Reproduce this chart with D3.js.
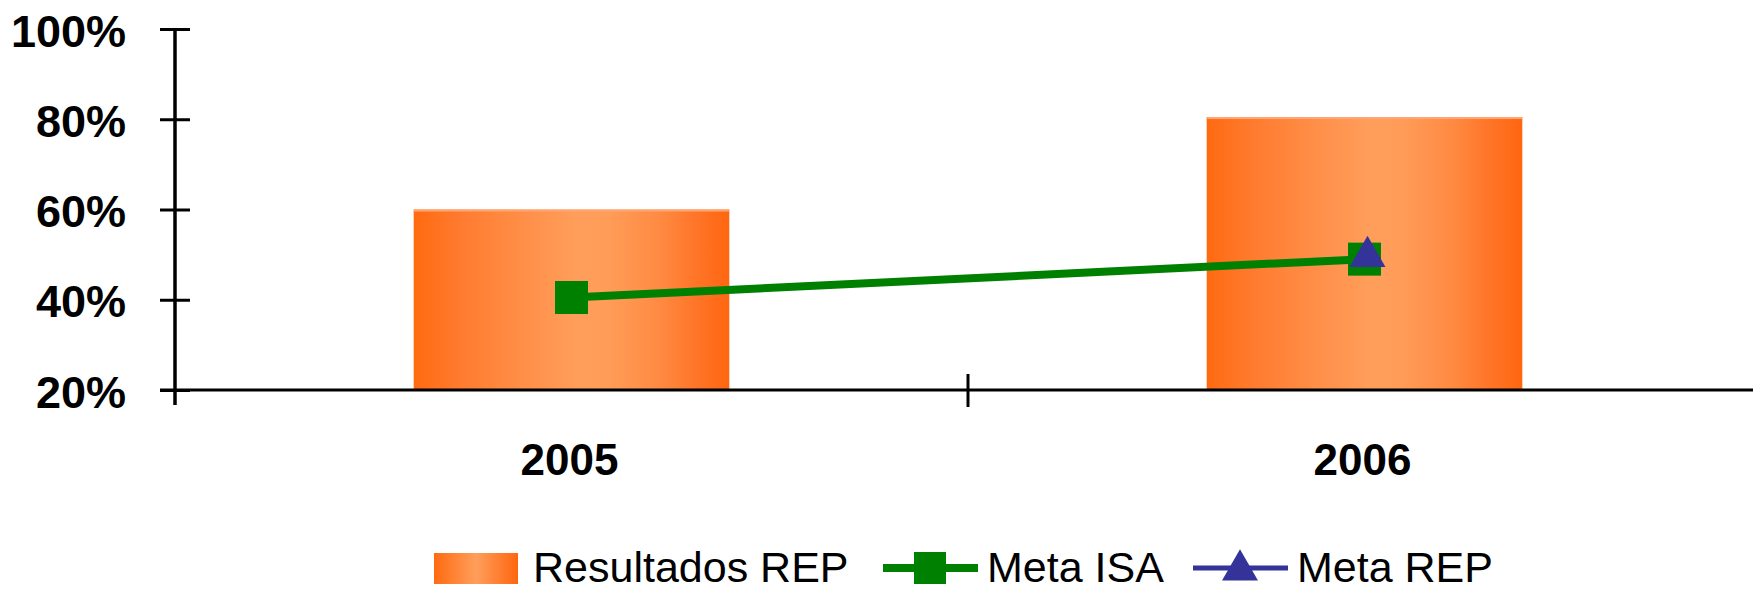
<!DOCTYPE html>
<html>
<head>
<meta charset="utf-8">
<script src="https://cdn.jsdelivr.net/npm/d3@7"></script>
<style>
  html, body { margin: 0; padding: 0; background: #fff; }
  svg { display: block; font-family: "Liberation Sans", Arial, sans-serif; }
</style>
</head>
<body>
<svg id="chart" width="1753" height="593"></svg>
<script>
// Chart data
const years = ["2005", "2006"];
const resultadosREP = [60, 80.5];
const metaISA = [40.5, 49];
const metaREP = [null, 50];
const yTicks = [20, 40, 60, 80, 100];
const legendLabels = ["Resultados REP", "Meta ISA", "Meta REP"];

const svg = d3.select("#chart");

// Plot frame
const plotLeft = 175, plotRight = 1761, plotTop = 29, plotBottom = 390;

const x = d3.scaleBand()
  .domain(years)
  .range([plotLeft, plotRight])
  .paddingInner(0.602)
  .paddingOuter(0.301);

const step = x.step();

const y = d3.scaleLinear().domain([20, 100]).range([plotBottom, plotTop]);

// Horizontal orange gradient for bars
const defs = svg.append("defs");
const grad = defs.append("linearGradient").attr("id", "barGrad")
  .attr("x1", "0%").attr("x2", "100%").attr("y1", "0%").attr("y2", "0%");
[
  [0, "#ff6a10"], [0.14, "#ff7a2e"], [0.35, "#ff8f48"], [0.52, "#ff9e5b"],
  [0.62, "#ff9c58"], [0.78, "#ff8a42"], [0.9, "#ff7427"], [1, "#ff6610"]
].forEach(([o, c]) => grad.append("stop").attr("offset", o).attr("stop-color", c));

// Bars
svg.append("g").selectAll("rect")
  .data(years)
  .join("rect")
  .attr("x", d => x(d))
  .attr("width", x.bandwidth())
  .attr("y", (d, i) => y(resultadosREP[i]))
  .attr("height", (d, i) => y(20) - y(resultadosREP[i]))
  .attr("fill", "url(#barGrad)");

// Light top edge of bars
svg.append("g").selectAll("line")
  .data(years)
  .join("line")
  .attr("x1", d => x(d))
  .attr("x2", d => x(d) + x.bandwidth())
  .attr("y1", (d, i) => y(resultadosREP[i]) + 1)
  .attr("y2", (d, i) => y(resultadosREP[i]) + 1)
  .attr("stroke", "#ffa574")
  .attr("stroke-width", 2);

// Y axis
const yAxis = d3.axisLeft(y)
  .tickValues(yTicks)
  .tickSize(0)
  .tickFormat(d => d + "%");
const gy = svg.append("g").attr("transform", `translate(${plotLeft},0)`).call(yAxis);
gy.select(".domain").remove();
gy.selectAll(".tick text")
  .attr("x", -49)
  .attr("dy", "0.38em")
  .attr("font-size", 45)
  .attr("font-weight", "bold")
  .attr("fill", "#000")
  .attr("font-family", "'Liberation Sans', Arial, sans-serif");
gy.selectAll(".tick").append("line")
  .attr("x1", -15).attr("x2", 15)
  .attr("stroke", "#000").attr("stroke-width", 3);
gy.append("line")
  .attr("x1", 0).attr("x2", 0)
  .attr("y1", plotTop).attr("y2", plotBottom + 15)
  .attr("stroke", "#000").attr("stroke-width", 3.5);

// X axis
svg.append("line")
  .attr("x1", plotLeft - 15).attr("x2", 1753)
  .attr("y1", plotBottom).attr("y2", plotBottom)
  .attr("stroke", "#000").attr("stroke-width", 3);

// Category separator ticks
svg.append("g").selectAll("line")
  .data(years.slice(1))
  .join("line")
  .attr("x1", d => x(d) - (step - x.bandwidth()) / 2)
  .attr("x2", d => x(d) - (step - x.bandwidth()) / 2)
  .attr("y1", plotBottom - 16).attr("y2", plotBottom + 17)
  .attr("stroke", "#000").attr("stroke-width", 3);

// Category labels
svg.append("g").selectAll("text")
  .data(years)
  .join("text")
  .attr("x", d => x(d) + x.bandwidth() / 2 - 2)
  .attr("y", 475)
  .attr("text-anchor", "middle")
  .attr("font-size", 44)
  .attr("font-weight", "bold")
  .text(d => d);

const cx = d => x(d) + x.bandwidth() / 2;

// Meta ISA line with square markers
const lineISA = d3.line()
  .defined((d, i) => metaISA[i] != null)
  .x(d => cx(d))
  .y((d, i) => y(metaISA[i]));
svg.append("path")
  .datum(years)
  .attr("d", lineISA)
  .attr("fill", "none")
  .attr("stroke", "#008000")
  .attr("stroke-width", 8);
svg.append("g").selectAll("rect")
  .data(years.filter((d, i) => metaISA[i] != null))
  .join("rect")
  .attr("x", d => cx(d) - 16.5)
  .attr("y", d => y(metaISA[years.indexOf(d)]) - 16.5)
  .attr("width", 33).attr("height", 33)
  .attr("fill", "#008000");

// Meta REP triangle markers
const tri = d3.symbol().type(d3.symbolTriangle).size(560);
svg.append("g").selectAll("path")
  .data(years.filter((d, i) => metaREP[i] != null))
  .join("path")
  .attr("d", tri)
  .attr("transform", d => `translate(${cx(d) + 3},${y(metaREP[years.indexOf(d)]) + 2})`)
  .attr("fill", "#333399");

// Legend
const lg = svg.append("g");
const legY = 568;
const lgGrad = defs.append("linearGradient").attr("id", "legGrad")
  .attr("x1", "0%").attr("x2", "100%");
[[0, "#ff6a10"], [0.5, "#ff9e5b"], [1, "#ff6610"]]
  .forEach(([o, c]) => lgGrad.append("stop").attr("offset", o).attr("stop-color", c));
lg.append("rect")
  .attr("x", 434).attr("y", 553).attr("width", 84).attr("height", 31)
  .attr("fill", "url(#legGrad)");
lg.append("line")
  .attr("x1", 883).attr("x2", 978).attr("y1", legY).attr("y2", legY)
  .attr("stroke", "#008000").attr("stroke-width", 8);
lg.append("rect")
  .attr("x", 914).attr("y", legY - 16).attr("width", 32).attr("height", 32)
  .attr("fill", "#008000");
lg.append("line")
  .attr("x1", 1193).attr("x2", 1288).attr("y1", legY).attr("y2", legY)
  .attr("stroke", "#333399").attr("stroke-width", 5);
lg.append("path")
  .attr("d", tri)
  .attr("transform", `translate(1240,${legY + 2})`)
  .attr("fill", "#333399");

const legX = [533, 987, 1297];
lg.selectAll("text.lbl")
  .data(legendLabels)
  .join("text")
  .attr("class", "lbl")
  .attr("x", (d, i) => legX[i])
  .attr("y", 582)
  .attr("font-size", 43)
  .attr("fill", "#000")
  .text(d => d);
</script>
</body>
</html>
